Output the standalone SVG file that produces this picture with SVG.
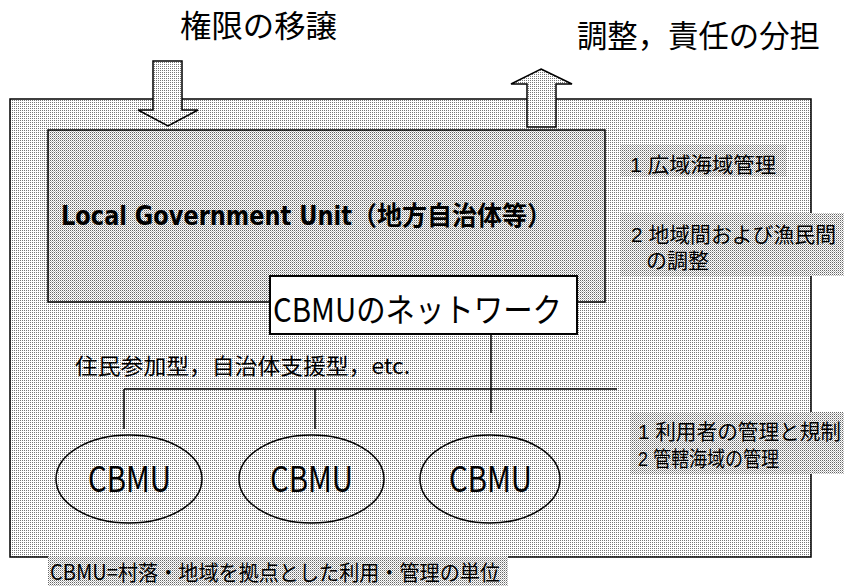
<svg xmlns="http://www.w3.org/2000/svg" width="844" height="586" viewBox="0 0 844 586">
<defs>
<pattern id="pl" width="2" height="2" patternUnits="userSpaceOnUse"><rect width="2" height="2" fill="#fff"/><rect width="1" height="1" fill="#777"/></pattern>
<pattern id="pd" width="2" height="2" patternUnits="userSpaceOnUse"><rect width="2" height="2" fill="#fff"/><rect width="1" height="1" fill="#666"/><rect x="1" y="1" width="1" height="1" fill="#bbb"/></pattern>
</defs>
<style>
.ln{stroke:#000;stroke-width:1.5;fill:none}
.sh{stroke:#000;stroke-width:1.5}
.t{font-family:"Noto Sans CJK JP","Noto Sans",sans-serif;fill:#000}
.n{font-family:"Liberation Sans","Noto Sans CJK JP",sans-serif;fill:#000}
.b{font-family:"DejaVu Sans Condensed","DejaVu Sans","Noto Sans CJK JP",sans-serif;font-stretch:condensed;font-weight:bold;fill:#000}
</style>
<g id="frame">
<rect x="10" y="99" width="801" height="458" fill="url(#pl)" class="sh"/>
</g>
<g id="arrow-down">
<polygon points="153,61 182,61 182,110 198,110 168,126 138,110 153,110" fill="url(#pl)" class="sh"/>
</g>
<g id="arrow-up">
<polygon points="541,69 572,84 556,84 556,127 527,127 527,84 511,84" fill="url(#pl)" class="sh"/>
</g>
<g id="lgu">
<rect x="48" y="130" width="557" height="172" fill="url(#pd)" class="sh"/>
<text class="b" x="61" y="225" font-size="26" textLength="491" lengthAdjust="spacingAndGlyphs">Local Government Unit（地方自治体等）</text>
</g>
<g id="network">
<rect x="270" y="276" width="307" height="58" fill="#fff" stroke="#000" stroke-width="2"/>
<text class="t" x="273" y="322" font-size="33" textLength="289" lengthAdjust="spacingAndGlyphs">CBMUのネットワーク</text>
</g>
<g id="connectors">
<line class="ln" x1="491" y1="334" x2="491" y2="413"/>
<line class="ln" x1="124" y1="389" x2="617" y2="389"/>
<line class="ln" x1="124" y1="389" x2="124" y2="429"/>
<line class="ln" x1="315" y1="389" x2="315" y2="429"/>
</g>
<g id="cbmu1">
<ellipse cx="129" cy="479" rx="73" ry="44" fill="url(#pl)" class="sh"/>
<text class="t" x="88" y="492" font-size="35" textLength="83" lengthAdjust="spacingAndGlyphs">CBMU</text>
</g>
<g id="cbmu2">
<ellipse cx="311.5" cy="479" rx="72.5" ry="44" fill="url(#pl)" class="sh"/>
<text class="t" x="270" y="492" font-size="35" textLength="83" lengthAdjust="spacingAndGlyphs">CBMU</text>
</g>
<g id="cbmu3">
<ellipse cx="490" cy="479" rx="70" ry="44" fill="url(#pl)" class="sh"/>
<text class="t" x="449" y="492" font-size="35" textLength="83" lengthAdjust="spacingAndGlyphs">CBMU</text>
</g>
<g id="label-top-left">
<text class="t" x="180" y="37" font-size="31" textLength="157" lengthAdjust="spacingAndGlyphs">権限の移譲</text>
</g>
<g id="label-top-right">
<text class="t" x="577" y="47" font-size="31" textLength="243" lengthAdjust="spacingAndGlyphs">調整，責任の分担</text>
</g>
<g id="note-wide">
<rect x="620" y="145" width="167" height="32" fill="url(#pd)"/>
<text class="n" x="630" y="172" font-size="21" textLength="146" lengthAdjust="spacingAndGlyphs">1 広域海域管理</text>
</g>
<g id="note-coord">
<rect x="620" y="213" width="224" height="63" fill="url(#pd)"/>
<text class="n" x="631" y="242" font-size="21" textLength="205" lengthAdjust="spacingAndGlyphs">2 地域間および漁民間</text>
<text class="n" x="646" y="268" font-size="21">の調整</text>
</g>
<g id="note-types">
<text class="t" x="75" y="374" font-size="22" textLength="335" lengthAdjust="spacingAndGlyphs">住民参加型，自治体支援型，etc.</text>
</g>
<g id="note-cbmu">
<rect x="630" y="412" width="214" height="62" fill="url(#pd)"/>
<text class="n" x="638" y="439" font-size="21" textLength="203" lengthAdjust="spacingAndGlyphs">1 利用者の管理と規制</text>
<text class="n" x="638" y="466" font-size="21" textLength="141" lengthAdjust="spacingAndGlyphs">2 管轄海域の管理</text>
</g>
<g id="legend">
<rect x="48" y="556" width="460" height="30" fill="url(#pd)"/>
<text class="t" x="50" y="580" font-size="21" textLength="450" lengthAdjust="spacingAndGlyphs">CBMU=村落・地域を拠点とした利用・管理の単位</text>
</g>
</svg>
